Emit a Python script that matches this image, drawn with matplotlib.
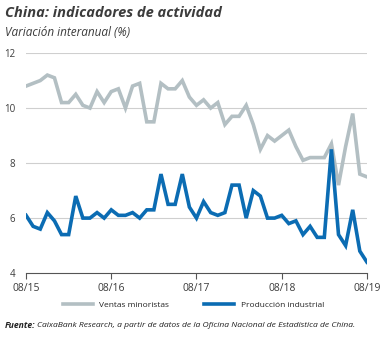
import numpy as np
import matplotlib
matplotlib.use("Agg")
import matplotlib.pyplot as plt

plt.rcParams['font.family'] = ['Open Sans', 'DejaVu Sans']

# monthly data, 08/2015 .. 08/2019
ventas = [10.8, 10.9, 11.0, 11.2, 11.1, 10.2, 10.2, 10.5, 10.1, 10.0, 10.6, 10.2,
          10.6, 10.7, 10.0, 10.8, 10.9, 9.5, 9.5, 10.9, 10.7, 10.7, 11.0, 10.4,
          10.1, 10.3, 10.0, 10.2, 9.4, 9.7, 9.7, 10.1, 9.4, 8.5, 9.0, 8.8,
          9.0, 9.2, 8.6, 8.1, 8.2, 8.2, 8.2, 8.7, 7.2, 8.6, 9.8, 7.6,
          7.5]
produccion = [6.1, 5.7, 5.6, 6.2, 5.9, 5.4, 5.4, 6.8, 6.0, 6.0, 6.2, 6.0,
              6.3, 6.1, 6.1, 6.2, 6.0, 6.3, 6.3, 7.6, 6.5, 6.5, 7.6, 6.4,
              6.0, 6.6, 6.2, 6.1, 6.2, 7.2, 7.2, 6.0, 7.0, 6.8, 6.0, 6.0,
              6.1, 5.8, 5.9, 5.4, 5.7, 5.3, 5.3, 8.5, 5.4, 5.0, 6.3, 4.8,
              4.4]
xtick_pos = [0, 12, 24, 36, 48]
xtick_labels = ['08/15', '08/16', '08/17', '08/18', '08/19']
yticks = [4, 6, 8, 10, 12]

col_gris = '#b3bfc3'
col_azul = '#0b6cb3'
col_texto = '#3c3c3c'

x = np.arange(len(ventas))

fig = plt.figure(figsize=(3.83, 3.38), dpi=100)
ax = fig.add_axes([0.068, 0.192, 0.890, 0.651])

for y in yticks[1:]:
    ax.axhline(y, color='#cfcfcf', lw=0.8, zorder=0)

ax.plot(x, ventas, color=col_gris, lw=2.6, label='Ventas minoristas', solid_joinstyle='miter')
ax.plot(x, produccion, color=col_azul, lw=2.6, label='Producción industrial', solid_joinstyle='miter')

ax.set_xlim(0, 48)
ax.set_ylim(4, 12)
ax.set_yticks(yticks)
ax.set_xticks(xtick_pos)
ax.set_xticklabels(xtick_labels)
for s in ['top', 'right', 'left']:
    ax.spines[s].set_visible(False)
ax.spines['bottom'].set_color('#555555')
ax.spines['bottom'].set_linewidth(0.8)
ax.tick_params(axis='y', length=0, pad=8, labelsize=7, labelcolor=col_texto)
ax.tick_params(axis='x', length=4, width=0.8, color='#555555', direction='out',
               pad=3, labelsize=7.5, labelcolor=col_texto)

fig.text(0.013, 0.962, 'China: indicadores de actividad', fontsize=10.5,
         fontweight='bold', fontstyle='italic', color=col_texto, va='center')
fig.text(0.013, 0.905, 'Variación interanual (%)', fontsize=8.5,
         fontstyle='italic', color=col_texto, va='center')

fig.legend(loc='center', bbox_to_anchor=(0.505, 0.097), ncol=2, frameon=False,
           fontsize=6.0, handlelength=3.6, columnspacing=4.2, handletextpad=0.8,
           labelcolor='#222222')

# source line: bold "Fuente:" followed by italic text
t1 = fig.text(0.013, 0.038, 'Fuente:', fontsize=6.2, fontweight='bold',
              fontstyle='italic', color='#222222', va='center')
fig.canvas.draw()
bb = t1.get_window_extent(renderer=fig.canvas.get_renderer())
x2 = bb.x1 / fig.bbox.width + 0.004
fig.text(x2, 0.038, 'CaixaBank Research, a partir de datos de la Oficina Nacional de Estadística de China.',
         fontsize=6.1, fontstyle='italic', color='#222222', va='center')

fig.savefig('out.png', dpi=100)
